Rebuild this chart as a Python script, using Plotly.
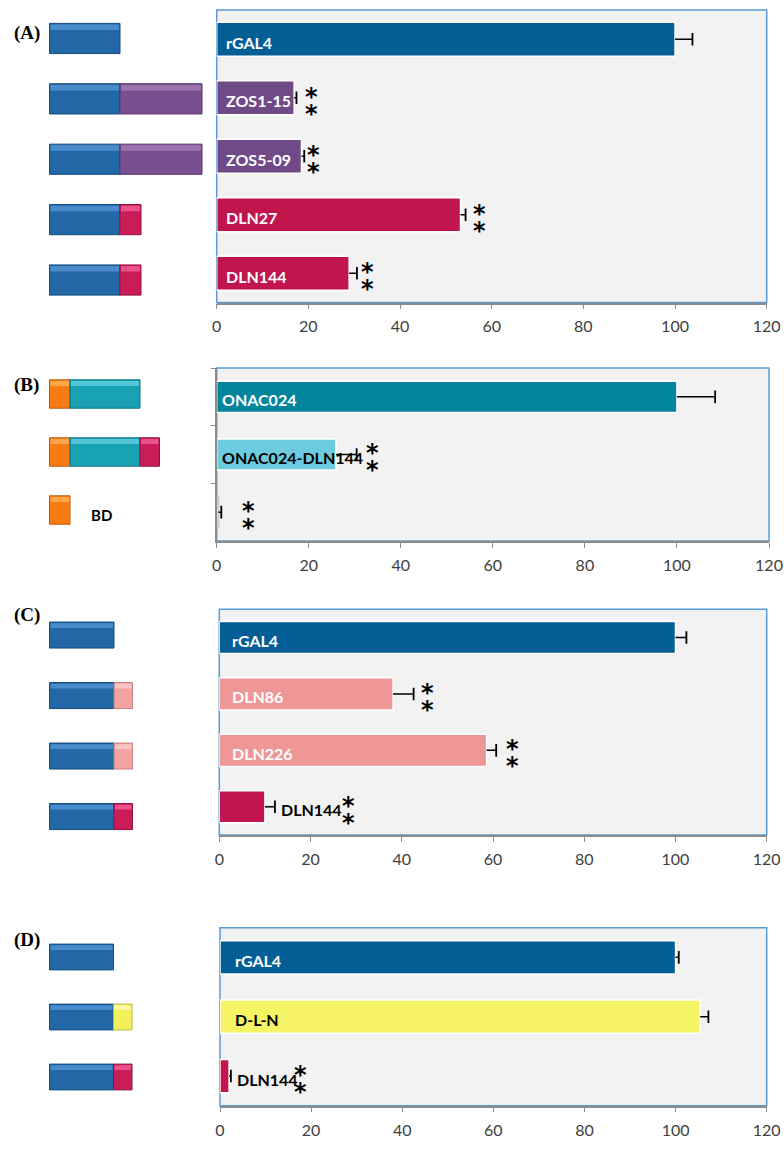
import plotly.graph_objects as go

W, H = 784, 1149

# ------------------------------------------------------------------ data
x_ticks = [0, 20, 40, 60, 80, 100, 120]

A_labels = ["rGAL4", "ZOS1-15", "ZOS5-09", "DLN27", "DLN144"]
A_values = [100, 16.9, 18.5, 53.2, 28.9]
A_errors = [3.8, 0.5, 0.6, 1.1, 1.7]
A_sig = ["", "**", "**", "**", "**"]
A_parts = [["GAL4"], ["GAL4", "ZOS"], ["GAL4", "ZOS"], ["GAL4", "DLN"], ["GAL4", "DLN"]]

B_labels = ["ONAC024", "ONAC024-DLN144", "BD"]
B_values = [100, 25.9, 0.4]
B_errors = [8.3, 4.5, 0.6]
B_sig = ["", "**", "**"]
B_parts = [["BD", "ONAC"], ["BD", "ONAC", "DLN"], ["BD"]]

C_labels = ["rGAL4", "DLN86", "DLN226", "DLN144"]
C_values = [100, 38.1, 58.6, 10.0]
C_errors = [2.4, 4.5, 2.1, 2.2]
C_sig = ["", "**", "**", "**"]
C_parts = [["GAL4"], ["GAL4", "DLNs"], ["GAL4", "DLNs"], ["GAL4", "DLN"]]

D_labels = ["rGAL4", "D-L-N", "DLN144"]
D_values = [100, 105.4, 2.0]
D_errors = [0.7, 1.8, 0.4]
D_sig = ["", "", "**"]
D_parts = [["GAL4"], ["GAL4", "DLNmut"], ["GAL4", "DLN"]]

# ------------------------------------------------------------------ styles
BLUE, PURPLE, CRIMSON = "#035E96", "#6F4A87", "#C2154D"
TEAL, LTEAL, PINK, YELLOW, GHOST = "#01849C", "#6DCBE0", "#EE9796", "#F5F566", "#F7F7F7"

PART_STYLE = {  # main, highlight, edge
    "GAL4": ("#2267A6", "#4A8CCB", "#174C7D"),
    "ZOS": ("#7A4F90", "#9C75AF", "#583770"),
    "DLN": ("#CA1C58", "#E9528A", "#931042"),
    "BD": ("#F97C12", "#FFA64D", "#C05E08"),
    "ONAC": ("#18A0B3", "#52C5D7", "#0E7583"),
    "DLNs": ("#F2A3A1", "#F9C6C4", "#C88280"),
    "DLNmut": ("#F3F05C", "#FAF8A0", "#C0BC3A"),
}

PANELS = [
    dict(title="(A)", title_y=33, labels=A_labels, values=A_values, errors=A_errors, sig=A_sig,
         parts=A_parts, colors=[BLUE, PURPLE, PURPLE, CRIMSON, CRIMSON],
         label_mode=["in", "in", "in", "in", "in"], label_color=["white"] * 5,
         star_dx=[0, 15, 9, 14, 11], label_dx=7,
         chart_x=(216.7, 766.7), chart_y=(10, 302.5), bar_w=0.58,
         diag_y=(8.3, 310.2), block=0.5,
         part_w={"GAL4": 70.5, "ZOS": 82, "DLN": 21}, yline=False),
    dict(title="(B)", title_y=385, labels=B_labels, values=B_values, errors=B_errors, sig=B_sig,
         parts=B_parts, colors=[TEAL, LTEAL, GHOST],
         label_mode=["in", "in", "none"], label_color=["white", "black", "black"],
         star_dx=[0, 16, 27], label_dx=3,
         chart_x=(216.7, 769), chart_y=(368, 541), bar_w=0.54,
         diag_y=(365, 539), block=0.49,
         part_w={"BD": 20.5, "ONAC": 70, "DLN": 19.5}, yline=True),
    dict(title="(C)", title_y=615, labels=C_labels, values=C_values, errors=C_errors, sig=C_sig,
         parts=C_parts, colors=[BLUE, PINK, PINK, CRIMSON],
         label_mode=["in", "in", "in", "out"], label_color=["white", "white", "white", "black"],
         star_dx=[0, 14, 16, 74], label_dx=11,
         chart_x=(219.3, 766.7), chart_y=(609.3, 835), bar_w=0.57,
         diag_y=(604.8, 846.8), block=0.43,
         part_w={"GAL4": 64.5, "DLNs": 18.5, "DLN": 18.5}, yline=False),
    dict(title="(D)", title_y=940, labels=D_labels, values=D_values, errors=D_errors, sig=D_sig,
         parts=D_parts, colors=[BLUE, YELLOW, CRIMSON],
         label_mode=["in", "in", "out"], label_color=["white", "black", "black"],
         star_dx=[0, 0, 70], label_dx=13,
         chart_x=(220, 766.7), chart_y=(927.7, 1105.7), bar_w=0.56,
         diag_y=(927, 1107), block=0.43,
         part_w={"GAL4": 64, "DLNmut": 18.5, "DLN": 18.5}, yline=False),
]

DIAG_X0 = 49.5
DIAG_RANGE = 215.0
LABEL_FONT = "Lato"
TICK_FONT = dict(family="Lato", size=16, color="#404040")


def ax(n):
    return ("x" if n == 1 else f"x{n}"), ("y" if n == 1 else f"y{n}")


def key(n, a):
    return f"{a}axis" if n == 1 else f"{a}axis{n}"


def ydom(top, bottom):
    return [1 - bottom / H, 1 - top / H]


fig = go.Figure()
layout = dict(width=W, height=H, margin=dict(l=0, r=0, t=0, b=0, autoexpand=False),
              paper_bgcolor="white", plot_bgcolor="rgba(0,0,0,0)",
              showlegend=False, barmode="overlay", shapes=[], annotations=[])

for i, P in enumerate(PANELS):
    nc, nd = 2 * i + 1, 2 * i + 2
    xc, yc = ax(nc)
    xd, yd = ax(nd)
    n = len(P["labels"])
    outline = ["#C8C8C8" if c == GHOST else "white" for c in P["colors"]]

    # ---------------- chart bars
    fig.add_trace(go.Bar(
        x=P["values"], y=P["labels"], orientation="h", xaxis=xc, yaxis=yc,
        width=P["bar_w"],
        marker=dict(color=P["colors"], line=dict(color=outline, width=1.5)),
        hoverinfo="skip"))

    # one-sided error bars (line from bar end + cap)
    ex, ey = [], []
    for lab, val, err in zip(P["labels"], P["values"], P["errors"]):
        ex += [val, val + err, None]
        ey += [lab, lab, None]
    fig.add_trace(go.Scatter(x=ex, y=ey, mode="lines", xaxis=xc, yaxis=yc,
                             line=dict(color="black", width=1.5), hoverinfo="skip"))
    fig.add_trace(go.Scatter(
        x=[v + e for v, e in zip(P["values"], P["errors"])], y=P["labels"], mode="markers",
        xaxis=xc, yaxis=yc, hoverinfo="skip",
        marker=dict(symbol="line-ns", size=9, line=dict(color="black", width=1.8))))

    layout[key(nc, "x")] = dict(
        domain=[P["chart_x"][0] / W, P["chart_x"][1] / W], range=[0, 120],
        tickmode="array", tickvals=x_ticks, ticks="outside", ticklen=5, tickcolor="#8C8C8C",
        showline=True, linecolor="#8C8C8C", linewidth=1.5, showgrid=False, zeroline=False,
        tickfont=TICK_FONT, ticklabelstandoff=4, anchor=yc, fixedrange=True, automargin=False)
    layout[key(nc, "y")] = dict(
        domain=ydom(*P["chart_y"]), type="category", categoryorder="array",
        categoryarray=P["labels"], autorange="reversed", showticklabels=False,
        showgrid=False, zeroline=False, anchor=xc, automargin=False,
        showline=P["yline"], linecolor="#8C8C8C", linewidth=1.5,
        ticks="outside" if P["yline"] else "", tickson="boundaries", ticklen=4,
        tickcolor="#8C8C8C", fixedrange=True)

    # background & blue frame
    layout["shapes"].append(dict(
        type="rect", xref=f"{xc} domain", yref=f"{yc} domain", x0=0, x1=1, y0=0, y1=1,
        fillcolor="#F2F2F2", line=dict(color="#5B9BD5", width=1.5), layer="below"))

    # bar labels
    for lab, val, err, mode, col in zip(P["labels"], P["values"], P["errors"],
                                        P["label_mode"], P["label_color"]):
        if mode == "none":
            continue
        if mode == "in":
            xx, dx = 0, P["label_dx"]
        else:
            xx, dx = val + err, 4
        layout["annotations"].append(dict(
            x=xx, y=lab, xref=xc, yref=yc, text=f"<b>{lab}</b>", showarrow=False,
            xanchor="left", yanchor="middle", xshift=dx, yshift=-3,
            font=dict(family=LABEL_FONT, size=16, color=col)))

    # significance asterisks
    for lab, val, err, s, sdx in zip(P["labels"], P["values"], P["errors"], P["sig"], P["star_dx"]):
        if not s:
            continue
        for dy in (8, -9):
            layout["annotations"].append(dict(
                x=val + err, y=lab, xref=xc, yref=yc, text="<b>*</b>", showarrow=False,
                xanchor="center", yanchor="middle", xshift=sdx, yshift=dy - 7,
                font=dict(family="DejaVu Sans", size=24, color="black")))

    # ---------------- construct diagrams
    blk = P["block"]
    for r, (lab, parts) in enumerate(zip(P["labels"], P["parts"])):
        start = DIAG_X0
        for part in parts:
            w = P["part_w"][part]
            main, light, edge = PART_STYLE[part]
            fig.add_trace(go.Bar(
                x=[w], y=[lab], base=[start], orientation="h", xaxis=xd, yaxis=yd,
                width=blk, offset=-blk / 2,
                marker=dict(color=main, line=dict(color=edge, width=1)), hoverinfo="skip"))
            fig.add_trace(go.Bar(
                x=[w - 2], y=[lab], base=[start + 1], orientation="h", xaxis=xd, yaxis=yd,
                width=blk * 0.18, offset=-blk / 2 + 0.02,
                marker=dict(color=light, line=dict(width=0)), hoverinfo="skip"))
            start += w
        if parts == ["BD"]:
            layout["annotations"].append(dict(
                x=start + 19, y=lab, xref=xd, yref=yd, text="<b>BD</b>", showarrow=False,
                xanchor="left", yanchor="middle", yshift=-5,
                font=dict(family=LABEL_FONT, size=15, color="black")))

    layout[key(nd, "x")] = dict(domain=[0, DIAG_RANGE / W], range=[0, DIAG_RANGE],
                                visible=False, anchor=yd, fixedrange=True, automargin=False)
    layout[key(nd, "y")] = dict(domain=ydom(*P["diag_y"]), type="category",
                                categoryorder="array", categoryarray=P["labels"],
                                autorange="reversed", visible=False, anchor=xd,
                                fixedrange=True, automargin=False)

    # panel title
    layout["annotations"].append(dict(
        x=12 / W, y=1 - P["title_y"] / H, xref="paper", yref="paper", text=f"<b>{P['title']}</b>",
        showarrow=False, xanchor="left", yanchor="middle",
        font=dict(family="Liberation Serif", size=19, color="black")))

fig.update_layout(**layout)
fig.write_html(
    "out.html", config={"displayModeBar": False},
    post_script="document.body.style.margin='0';document.body.style.padding='0';"
                "document.documentElement.style.overflow='hidden';")
